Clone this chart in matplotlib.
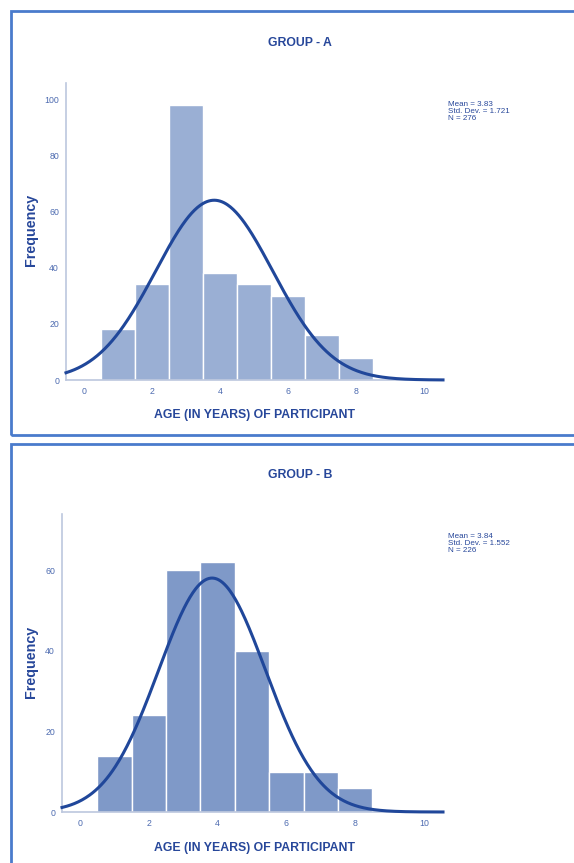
import numpy as np
import matplotlib.pyplot as plt
from matplotlib.patches import Rectangle

ages = [1, 2, 3, 4, 5, 6, 7, 8]
freq_a = [18, 34, 98, 38, 34, 30, 16, 8]
freq_b = [14, 24, 60, 62, 40, 10, 10, 6]
stats_a = {"mean": 3.83, "sd": 1.721, "n": 276}
stats_b = {"mean": 3.84, "sd": 1.552, "n": 226}
x_ticks = [0, 2, 4, 6, 8, 10]

TITLE_C = "#27479a"
TICK_C = "#4d6bb0"
CURVE_C = "#20479a"
BOX_C = "#4a7bcc"
SANS = ["Liberation Sans", "DejaVu Sans"]

fig = plt.figure(figsize=(5.74, 8.63), dpi=100)
W, H = 574, 863


def fx(px):
    return px / W


def fy(py):
    return 1 - py / H


# outer boxes
fig.patches.append(Rectangle((fx(11), fy(435.5)), fx(600), fy(11.5) - fy(435.5),
                             transform=fig.transFigure, fill=False,
                             edgecolor=BOX_C, linewidth=2))
fig.patches.append(Rectangle((fx(11), fy(900)), fx(600), fy(444) - fy(900),
                             transform=fig.transFigure, fill=False,
                             edgecolor=BOX_C, linewidth=2))


def panel(rect, counts, st, bar_color, xlim, ylim, yticks, title, title_y,
          xlabel_y, ylabel_y, stats_y):
    ax = fig.add_axes(rect)
    ax.bar(ages, counts, width=1.0, color=bar_color, edgecolor="white",
           linewidth=1.0, zorder=2)
    xs = np.linspace(xlim[0], xlim[1], 400)
    pdf = st["n"] / (st["sd"] * np.sqrt(2 * np.pi)) * np.exp(-0.5 * ((xs - st["mean"]) / st["sd"]) ** 2)
    ax.plot(xs, pdf, color=CURVE_C, linewidth=2.2, zorder=3, clip_on=False)
    ax.set_xlim(*xlim)
    ax.set_ylim(*ylim)
    ax.set_xticks(x_ticks)
    ax.set_yticks(yticks)
    for s in ["top", "right"]:
        ax.spines[s].set_visible(False)
    for s in ["left", "bottom"]:
        ax.spines[s].set_color("#bcc7de")
        ax.spines[s].set_linewidth(1.2)
    ax.tick_params(length=0, labelsize=6.3, labelcolor=TICK_C, pad=5)
    for lab in ax.get_xticklabels() + ax.get_yticklabels():
        lab.set_family(SANS)

    fig.text(fx(300), fy(title_y), title, ha="center", va="center",
             fontsize=8.8, fontweight="bold", color=TITLE_C, family=SANS)
    fig.text(fx(255), fy(xlabel_y), "AGE (IN YEARS) OF PARTICIPANT", ha="center",
             va="center", fontsize=8.8, fontweight="bold", color=TITLE_C, family=SANS)
    fig.text(fx(31), fy(ylabel_y), "Frequency", ha="center", va="center",
             rotation=90, fontsize=10.3, fontweight="bold", color=TITLE_C, family=SANS)
    txt = "Mean = %.2f\nStd. Dev. = %.3f\nN = %d" % (st["mean"], st["sd"], st["n"])
    fig.text(fx(448), fy(stats_y), txt, ha="left", va="top", fontsize=5.8,
             color=TITLE_C, family=SANS, linespacing=1.0)
    return ax


panel([fx(66), fy(380), fx(443) - fx(66), fy(83) - fy(380)], freq_a, stats_a,
      "#9aafd4", (-0.53, 10.56), (0, 105.7), [0, 20, 40, 60, 80, 100],
      "GROUP - A", 43, 415, 230, 101)
panel([fx(62), fy(812), fx(443) - fx(62), fy(514) - fy(812)], freq_b, stats_b,
      "#7f99c8", (-0.52, 10.55), (0, 74), [0, 20, 40, 60],
      "GROUP - B", 475, 848, 662, 533)

fig.savefig("out.png", dpi=100)
